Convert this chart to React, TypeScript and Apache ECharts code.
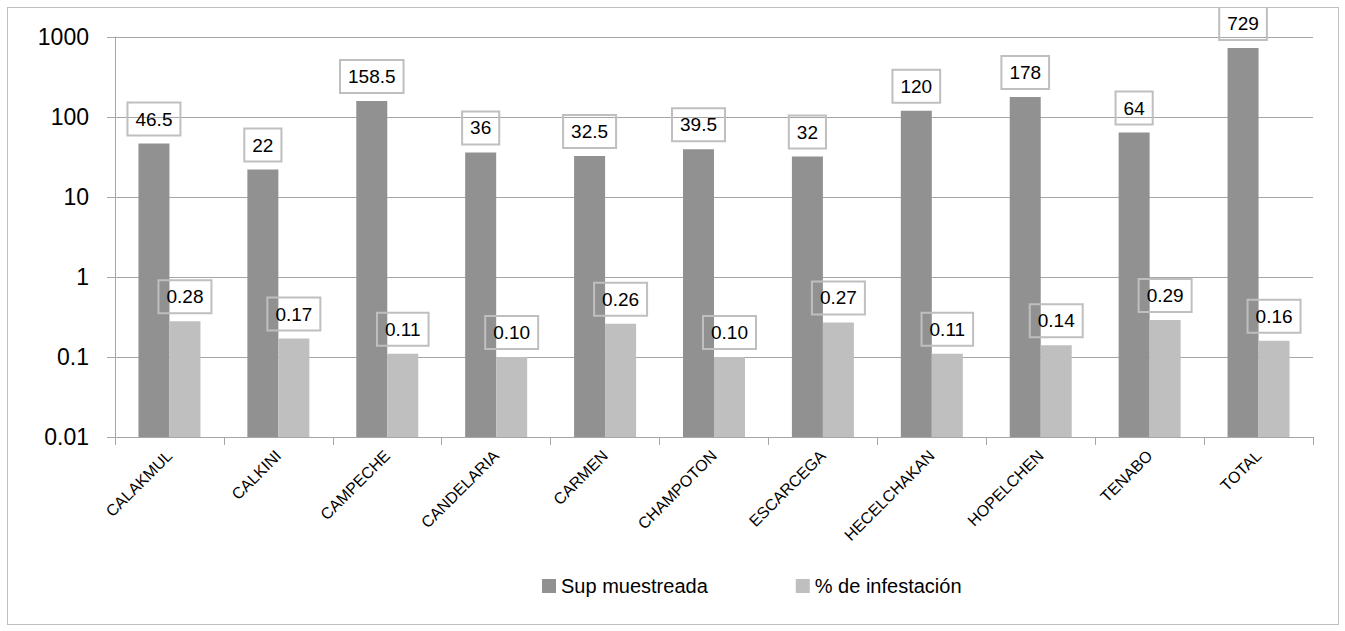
import React, { useEffect, useRef } from "react";
import * as echarts from "echarts";

const categories = [
  "CALAKMUL", "CALKINI", "CAMPECHE", "CANDELARIA", "CARMEN", "CHAMPOTON",
  "ESCARCEGA", "HECELCHAKAN", "HOPELCHEN", "TENABO", "TOTAL",
];
const supMuestreada = [46.5, 22, 158.5, 36, 32.5, 39.5, 32, 120, 178, 64, 729];
const infestacion = [0.28, 0.17, 0.11, 0.1, 0.26, 0.1, 0.27, 0.11, 0.14, 0.29, 0.16];
const seriesNames = ["Sup muestreada", "% de infestación"];
const yTickLabels = ["0.01", "0.1", "1", "10", "100", "1000"];

const FONT = "'Liberation Sans', Arial, sans-serif";
// log scale drawn on a linear axis whose 0 is the axis minimum (0.01),
// so that bars rise from the bottom of the plot as in the reference
const LOG_MIN = -2;
const toAxis = (v: number) => Math.log10(v) - LOG_MIN;

export default function App() {
  const ref = useRef<HTMLDivElement>(null);
  useEffect(() => {
    if (!ref.current) return;
    const chart = echarts.init(ref.current, null, { renderer: "svg" });
    const labelBase = {
      show: true,
      position: "top" as const,
      distance: 8,
      fontFamily: FONT,
      fontSize: 19,
      lineHeight: 19,
      color: "#000",
      padding: [7, 8, 7, 8],
      borderColor: "#bfbfbf",
      borderWidth: 1,
      backgroundColor: "transparent",
    };
    chart.setOption({
      animation: false,
      textStyle: { fontFamily: FONT },
      grid: { left: 107, right: 25, top: 29, bottom: 187, containLabel: false },
      legend: {
        left: 529,
        top: 563,
        itemWidth: 14,
        itemHeight: 14,
        itemGap: 88,
        icon: "rect",
        textStyle: { fontFamily: FONT, fontSize: 20, color: "#000" },
        data: seriesNames,
      },
      xAxis: {
        type: "category",
        data: categories,
        axisLine: { lineStyle: { color: "#a6a6a6", width: 1 } },
        axisTick: { show: true, length: 8, lineStyle: { color: "#a6a6a6" } },
        axisLabel: {
          rotate: 45,
          interval: 0,
          margin: 16,
          fontFamily: FONT,
          fontSize: 16,
          color: "#000",
        },
      },
      yAxis: {
        type: "value",
        min: 0,
        max: 5,
        interval: 1,
        axisLine: { show: true, lineStyle: { color: "#a6a6a6" } },
        axisTick: { show: true, length: 8, inside: false, lineStyle: { color: "#a6a6a6" } },
        splitLine: { show: true, lineStyle: { color: "#a6a6a6", width: 1 } },
        axisLabel: {
          margin: 26,
          fontFamily: FONT,
          fontSize: 23,
          color: "#000",
          formatter: (v: number) => yTickLabels[Math.round(v)] ?? "",
        },
      },
      series: [
        {
          name: seriesNames[0],
          type: "bar",
          data: supMuestreada.map(toAxis),
          barWidth: 31,
          barGap: "0%",
          itemStyle: { color: "#919191" },
          label: { ...labelBase, formatter: (p: any) => String(supMuestreada[p.dataIndex]) },
        },
        {
          name: seriesNames[1],
          type: "bar",
          data: infestacion.map(toAxis),
          barWidth: 31,
          barGap: "0%",
          itemStyle: { color: "#bfbfbf" },
          label: { ...labelBase, formatter: (p: any) => infestacion[p.dataIndex].toFixed(2) },
        },
      ],
    });
    return () => chart.dispose();
  }, []);
  return (
    <div
      style={{
        position: "absolute",
        left: 7,
        top: 7,
        width: 1330,
        height: 616,
        border: "1px solid #bfbfbf",
        background: "#fff",
      }}
    >
      <div ref={ref} style={{ width: 1330, height: 616 }} />
    </div>
  );
}
